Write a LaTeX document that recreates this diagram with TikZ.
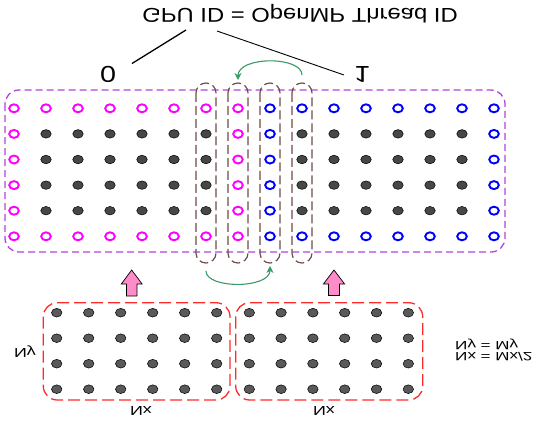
\documentclass[tikz,border=0pt]{standalone}
\usepackage{fontspec}
\setmainfont{Liberation Sans}
\usepackage{graphicx}
\usetikzlibrary{arrows.meta,shapes.geometric}

\definecolor{mag}{HTML}{FF00FF}
\definecolor{blu}{HTML}{0000FF}
\definecolor{purp}{HTML}{B048DC}
\definecolor{brn}{HTML}{6E4B47}
\definecolor{redd}{HTML}{FF2A2A}
\definecolor{grn}{HTML}{3A9A68}
\definecolor{pnk}{HTML}{FF8CC8}
\definecolor{dotc}{HTML}{474747}
\definecolor{dotb}{HTML}{595959}

\newcommand{\vflip}[2]{\scalebox{#1}[-1]{#2}}

\begin{document}
\begin{tikzpicture}[x=1pt,y=-1pt,
  om/.style={ellipse, draw=mag, line width=1.9pt, minimum width=9.6pt, minimum height=8pt, inner sep=0pt},
  ob/.style={ellipse, draw=blu, line width=1.9pt, minimum width=9.6pt, minimum height=8pt, inner sep=0pt},
  dk/.style={ellipse, draw=black, fill=dotc, line width=0.5pt, minimum width=10.5pt, minimum height=8.5pt, inner sep=0pt},
  db/.style={ellipse, draw=black, fill=dotb, line width=0.5pt, minimum width=10.5pt, minimum height=8.7pt, inner sep=0pt},
  purpbox/.style={draw=purp, line width=1.3pt, dash pattern=on 7pt off 4pt, rounded corners=14pt},
  strip/.style={draw=brn, line width=1.2pt, dash pattern=on 9pt off 4pt, rounded corners=9.9pt},
  redbox/.style={draw=redd, line width=1.3pt, dash pattern=on 12pt off 5pt, rounded corners=14pt},
  garrow/.style={draw=grn, line width=1.1pt, -{Stealth[length=7pt,width=7pt]}},
  pinkarrow/.style={draw=black, fill=pnk, line width=0.7pt, line join=miter},
  lbl/.style={anchor=base, inner sep=0pt}
]
\useasboundingbox[fill=white] (0,0) rectangle (538,421);

% big grid
\foreach \i in {0,...,15}{
  \foreach \j in {0,...,5}{
    \pgfmathtruncatemacro{\edge}{(\j==0)||(\j==5)||(\i==0)||(\i==7)||(\i==8)||(\i==15)}
    \pgfmathtruncatemacro{\side}{\i>7}
    \ifnum\edge=1
      \ifnum\side=0 \def\sty{om}\else\def\sty{ob}\fi
    \else \def\sty{dk}\fi
    \node[\sty] (g-\i-\j) at ({14+32*\i},{108.3+25.6*\j}) {};
  }
}
\draw[purpbox] (5,90) rectangle (505,252);
\foreach \x in {206,238,270,302}
  \draw[strip] (\x-10,83) rectangle (\x+10,263);

% bottom grids
\foreach \i in {0,...,5}{
  \foreach \j in {0,...,3}{
    \node[db] (l-\i-\j) at ({56.7+32*\i},{312.7+25.5*\j}) {};
    \node[db] (r-\i-\j) at ({249.3+31.8*\i},{312.7+25.5*\j}) {};
  }
}
\draw[redbox] (43.3,302.7) rectangle (230,400);
\draw[redbox] (235.7,302.7) rectangle (422.7,400);

% pink block arrows
\draw[pinkarrow, shift={(131.7,270)}] (0,0) -- (10.4,14) -- (5.3,14) -- (5.3,26) -- (-5.3,26) -- (-5.3,14) -- (-10.4,14) -- cycle;
\draw[pinkarrow, shift={(334,270)}] (0,0) -- (10.6,14) -- (5.5,14) -- (5.5,25.5) -- (-5.5,25.5) -- (-5.5,14) -- (-10.6,14) -- cycle;

% green exchange arrows
\coordinate (ta) at (302,75);
\coordinate (tb) at (238,80);
\coordinate (ba) at (206,271);
\coordinate (bb) at (270,266);
\draw[garrow] (ta) .. controls (302,56) and (238,56) .. (tb);
\draw[garrow] (ba) .. controls (206,289) and (270,289) .. (bb);

% labels
\node[lbl] (title) at (300,8.3) {\fontsize{20}{24}\selectfont\vflip{1.19}{GPU ID = OpenMP Thread ID}};
\node[lbl] (zero) at (108,66.7) {\fontsize{23}{26}\selectfont\vflip{1.25}{0}};
\node[lbl] (one) at (362,66) {\fontsize{23}{26}\selectfont\vflip{1.25}{1}};
\coordinate (t1) at (186,30);
\coordinate (z1) at (132,63.5);
\coordinate (t2) at (217,31);
\coordinate (o1) at (344,75);
\draw[line width=1.3pt] (t1) -- (z1);
\draw[line width=0.9pt] (t2) -- (o1);

\node[lbl] (ny) at (25,348) {\fontsize{13}{15}\selectfont\vflip{1.37}{Ny}};
\node[lbl] (nxl) at (141,406.7) {\fontsize{13}{15}\selectfont\vflip{1.37}{Nx}};
\node[lbl] (nxr) at (324,406.7) {\fontsize{13}{15}\selectfont\vflip{1.37}{Nx}};
\node[anchor=west, inner sep=0pt] (eq) at (455,349.5) {\fontsize{12}{11.8}\selectfont\vflip{1.42}{\begin{tabular}{@{}l@{}}Nx = Mx/2\\Ny = My\end{tabular}}};
\end{tikzpicture}
\end{document}
